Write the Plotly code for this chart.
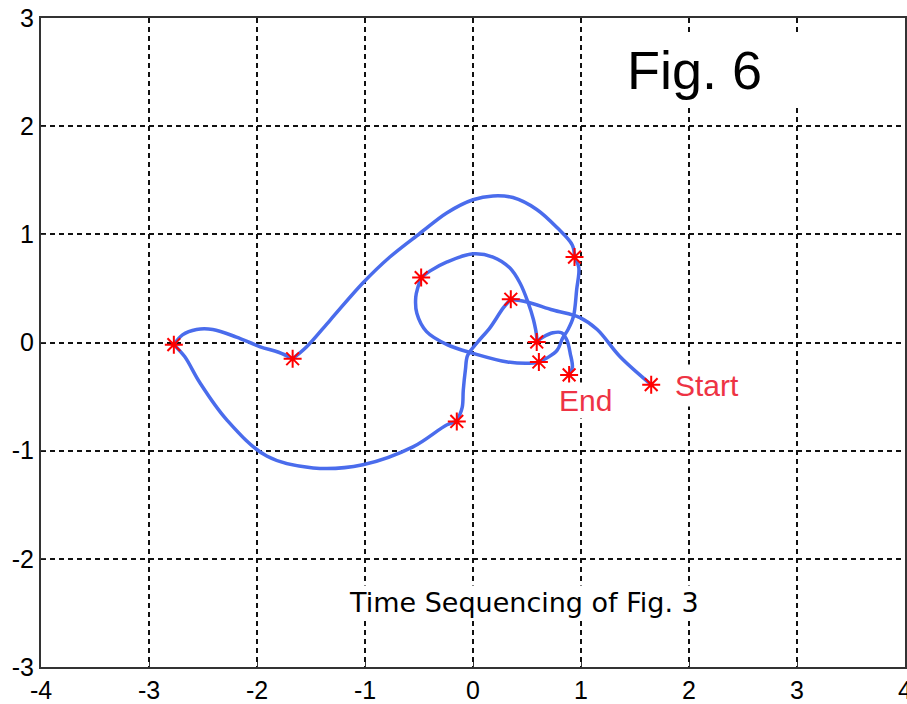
import plotly.graph_objects as go

# Key frames (red asterisks), in time order: Start ... End
key_x = [1.65, 0.35, -0.15, -2.77, -1.67, 0.94, 0.61, -0.48, 0.59, 0.89]
key_y = [-0.39, 0.40, -0.73, -0.02, -0.15, 0.79, -0.18, 0.60, 0.005, -0.30]

# Traced path between consecutive key frames (one list per segment)
seg_x = [
    [1.65, 1.36, 1.15, 0.99, 0.74, 0.50, 0.35],
    [0.35, 0.28, 0.16, 0.04, -0.05, -0.07, -0.09, -0.10, -0.15],
    [-0.15, -0.24, -0.556, -1.02, -1.48, -1.91, -2.28, -2.53, -2.67, -2.77],
    [-2.77, -2.69, -2.56, -2.41, -2.19, -1.97, -1.80, -1.67],
    [-1.67, -1.54, -1.32, -1.02, -0.77, -0.49, -0.24, 0.0, 0.185, 0.37, 0.59, 0.78, 0.92, 0.94],
    [0.94, 0.98, 0.96, 0.93, 0.88, 0.83, 0.78, 0.69, 0.61],
    [0.61, 0.56, 0.32, 0.0, -0.24, -0.43, -0.52, -0.53, -0.51, -0.48],
    [-0.48, -0.40, -0.24, 0.0, 0.185, 0.34, 0.435, 0.51, 0.56, 0.59, 0.59],
    [0.59, 0.65, 0.74, 0.82, 0.87, 0.90, 0.92, 0.89],
]
seg_y = [
    [-0.39, -0.13, 0.12, 0.23, 0.30, 0.375, 0.40],
    [0.40, 0.32, 0.14, 0.0, -0.12, -0.25, -0.44, -0.60, -0.73],
    [-0.73, -0.76, -0.965, -1.13, -1.16, -1.05, -0.715, -0.37, -0.13, -0.02],
    [-0.02, 0.07, 0.12, 0.12, 0.05, -0.04, -0.09, -0.15],
    [-0.15, -0.04, 0.21, 0.55, 0.79, 1.01, 1.20, 1.32, 1.355, 1.34, 1.23, 1.06, 0.90, 0.79],
    [0.79, 0.69, 0.49, 0.24, 0.12, 0.04, -0.07, -0.14, -0.18],
    [-0.18, -0.19, -0.18, -0.10, -0.02, 0.10, 0.27, 0.42, 0.51, 0.60],
    [0.60, 0.66, 0.745, 0.82, 0.79, 0.69, 0.55, 0.37, 0.21, 0.05, 0.005],
    [0.005, 0.05, 0.09, 0.09, 0.02, -0.10, -0.23, -0.30],
]

x_ticks = [-4, -3, -2, -1, 0, 1, 2, 3, 4]
y_ticks = [-3, -2, -1, 0, 1, 2, 3]
x_tick_text = ["-4", "-3", "-2", "-1", "0", "1", "2", "3", "4"]
y_tick_text = ["-3", "-2", "-1", "0", "1", "2", "3"]

path_x, path_y = [], []
for sx, sy in zip(seg_x, seg_y):
    path_x += sx + [None]
    path_y += sy + [None]

fig = go.Figure()
fig.add_trace(go.Scatter(
    x=path_x, y=path_y, mode="lines",
    line=dict(color="#4a6cec", width=3.5, shape="spline", smoothing=1.0),
    connectgaps=False, hoverinfo="skip", showlegend=False))
fig.add_trace(go.Scatter(
    x=key_x, y=key_y, mode="markers",
    marker=dict(symbol="asterisk-open", size=15, color="#ff0000",
                line=dict(color="#ff0000", width=2)),
    showlegend=False))

axis_common = dict(
    showgrid=True, gridcolor="#111111", gridwidth=1.8, griddash="5px,4px",
    zeroline=False, showline=True, linecolor="#333333", linewidth=2,
    mirror=True, ticks="inside", ticklen=5, tickcolor="#333333",
    tickfont=dict(family="Liberation Sans, Arial", size=25, color="#000000"),
    tickmode="array", fixedrange=True, ticklabeloverflow="allow",
    automargin=False,
)
fig.update_xaxes(range=[-4, 4], tickvals=x_ticks, ticktext=x_tick_text, **axis_common)
fig.update_yaxes(range=[-3, 3], tickvals=y_ticks, ticktext=y_tick_text, **axis_common)

fig.add_shape(type="rect", xref="x", yref="y", x0=1.3, x1=3.05, y0=2.17, y1=2.86,
              fillcolor="white", line=dict(width=0), layer="between")

fig.add_annotation(x=2.05, y=2.52, xref="x", yref="y", text="Fig. 6", showarrow=False,
                   font=dict(family="Liberation Sans, Arial", size=54, color="#000000"))
fig.add_annotation(x=0.472, y=-2.40, xref="x", yref="y", text="Time Sequencing of Fig. 3",
                   showarrow=False, bgcolor="white",
                   font=dict(family="DejaVu Sans", size=27, color="#000000"))
fig.add_annotation(x=1.82, y=-0.40, xref="x", yref="y", text="Start", showarrow=False,
                   xanchor="left", bgcolor="white", borderpad=4,
                   font=dict(family="Liberation Sans, Arial", size=30, color="#ee3344"))
fig.add_annotation(x=0.78, y=-0.54, xref="x", yref="y", text="End", showarrow=False,
                   xanchor="left", bgcolor="white", borderpad=1,
                   font=dict(family="Liberation Sans, Arial", size=30, color="#ee3344"))

fig.update_layout(
    width=907, height=704,
    margin=dict(l=41, r=2, t=18, b=37, autoexpand=False),
    paper_bgcolor="white", plot_bgcolor="white",
    showlegend=False,
)

fig.write_html("out.html")
